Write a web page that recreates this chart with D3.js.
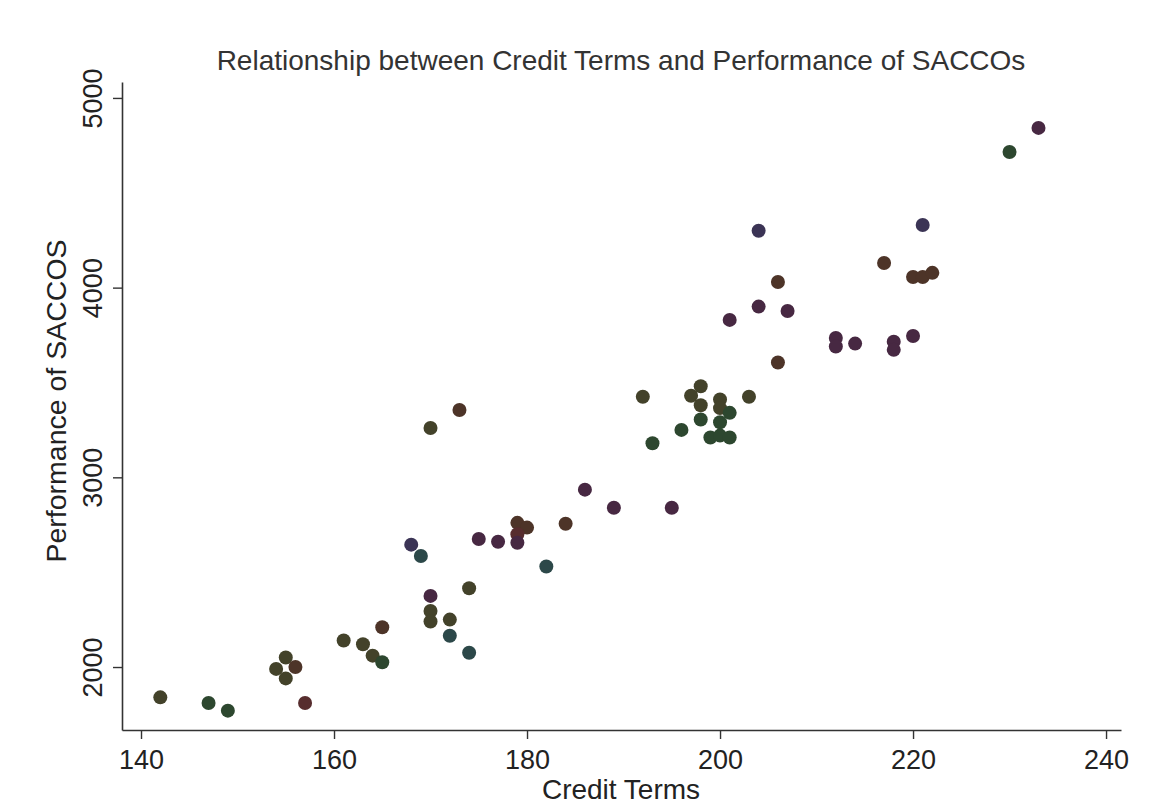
<!DOCTYPE html>
<html>
<head>
<meta charset="utf-8">
<script src="https://cdn.jsdelivr.net/npm/d3@7"></script>
<style>
  html, body { margin: 0; padding: 0; background: #fff; }
  svg { display: block; font-family: "Liberation Sans", Arial, Helvetica, sans-serif; }
</style>
</head>
<body>
<svg id="chart" width="1153" height="805"></svg>
<script>
// Credit terms (x) and SACCO performance (y), one entry per SACCO
const creditTerms = [
  142, 147, 149, 154, 155, 156, 155, 157, 161, 163,
  164, 165, 165, 168, 169, 170, 170, 170, 172, 172,
  174, 174, 170, 173, 175, 177, 179, 180, 179, 179,
  182, 184, 186, 189, 195, 192, 193, 196, 197, 198,
  198, 198, 200, 200, 201, 200, 199, 200, 201, 203,
  201, 204, 204, 206, 207, 206, 212, 212, 214, 217,
  218, 218, 220, 220, 221, 222, 221, 230, 233
];
const performance = [
  1840, 1810, 1770, 1990, 2050, 2000, 1940, 1810, 2140, 2120,
  2060, 2025, 2210, 2645, 2585, 2375, 2295, 2240, 2250, 2165,
  2415, 2075, 3260, 3355, 2675, 2660, 2760, 2735, 2700, 2655,
  2530, 2755, 2935, 2840, 2840, 3425, 3180, 3250, 3430, 3480,
  3380, 3305, 3410, 3365, 3340, 3290, 3210, 3220, 3210, 3425,
  3830, 3900, 4300, 4030, 3877, 3605, 3735, 3690, 3705, 4130,
  3715, 3672, 3745, 4056, 4056, 4078, 4330, 4715, 4842
];
const xTicks = [140, 160, 180, 200, 220, 240];
const yTicks = [2000, 3000, 4000, 5000];

// Ink tone of each printed marker (index into markerPalette)
const markerPalette = ["#43422a", "#2d472f", "#2c4849", "#4d3428", "#472842", "#3b3455", "#572d2e"];
const markerTone = [
  0, 1, 1, 0, 0, 3, 0, 6, 0, 0,
  0, 1, 3, 5, 2, 4, 0, 0, 0, 2,
  0, 2, 0, 3, 4, 4, 3, 3, 6, 4,
  2, 3, 4, 4, 4, 0, 1, 1, 0, 0,
  0, 1, 0, 0, 1, 1, 1, 1, 1, 0,
  4, 4, 5, 3, 4, 3, 4, 4, 4, 3,
  4, 4, 4, 3, 3, 3, 5, 1, 4
];

const svg = d3.select("#chart");
const ink = "#222";

const x = d3.scaleLinear().domain([138.03, 241.55]).range([122, 1121]);
const y = d3.scaleLinear().domain([1668, 5084]).range([730, 82]);

// Title
svg.append("text")
  .attr("x", 621).attr("y", 70)
  .attr("text-anchor", "middle")
  .attr("font-size", 28)
  .attr("fill", "#333")
  .text("Relationship between Credit Terms and Performance of SACCOs");

// X axis
const xAxis = svg.append("g")
  .attr("transform", "translate(0,730)")
  .call(d3.axisBottom(x).tickValues(xTicks).tickFormat(d3.format("d"))
    .tickSize(9).tickSizeOuter(0).tickPadding(11));
xAxis.select(".domain").attr("stroke", "#333").attr("stroke-width", 1.6);
xAxis.selectAll(".tick line").attr("stroke", "#333").attr("stroke-width", 1.4);
xAxis.selectAll(".tick text")
  .attr("font-size", 27).attr("fill", ink)
  .attr("font-family", "Liberation Sans, Arial, sans-serif");

// Y axis with vertical tick labels
const yAxis = svg.append("g")
  .attr("transform", "translate(122,0)")
  .call(d3.axisLeft(y).tickValues(yTicks).tickFormat(d3.format("d"))
    .tickSize(9).tickSizeOuter(0));
yAxis.select(".domain").attr("stroke", "#333").attr("stroke-width", 1.6);
yAxis.selectAll(".tick line").attr("stroke", "#333").attr("stroke-width", 1.4);
yAxis.selectAll(".tick text")
  .attr("font-size", 27).attr("fill", ink)
  .attr("font-family", "Liberation Sans, Arial, sans-serif")
  .attr("text-anchor", "middle")
  .attr("dy", null)
  .attr("x", null)
  .attr("transform", "translate(-20,0) rotate(-90)");

// Axis titles
svg.append("text")
  .attr("x", 621).attr("y", 799)
  .attr("text-anchor", "middle")
  .attr("font-size", 28)
  .attr("fill", ink)
  .text("Credit Terms");

svg.append("text")
  .attr("transform", "translate(66,401) rotate(-90)")
  .attr("text-anchor", "middle")
  .attr("font-size", 28.5)
  .attr("fill", ink)
  .text("Performance of SACCOS");

// Markers
const points = creditTerms.map((c, i) => ({ c, p: performance[i], tone: markerTone[i] }));
svg.append("g")
  .selectAll("circle")
  .data(points)
  .join("circle")
  .attr("cx", d => x(d.c))
  .attr("cy", d => y(d.p))
  .attr("r", 7)
  .attr("fill", d => markerPalette[d.tone]);
</script>
</body>
</html>
